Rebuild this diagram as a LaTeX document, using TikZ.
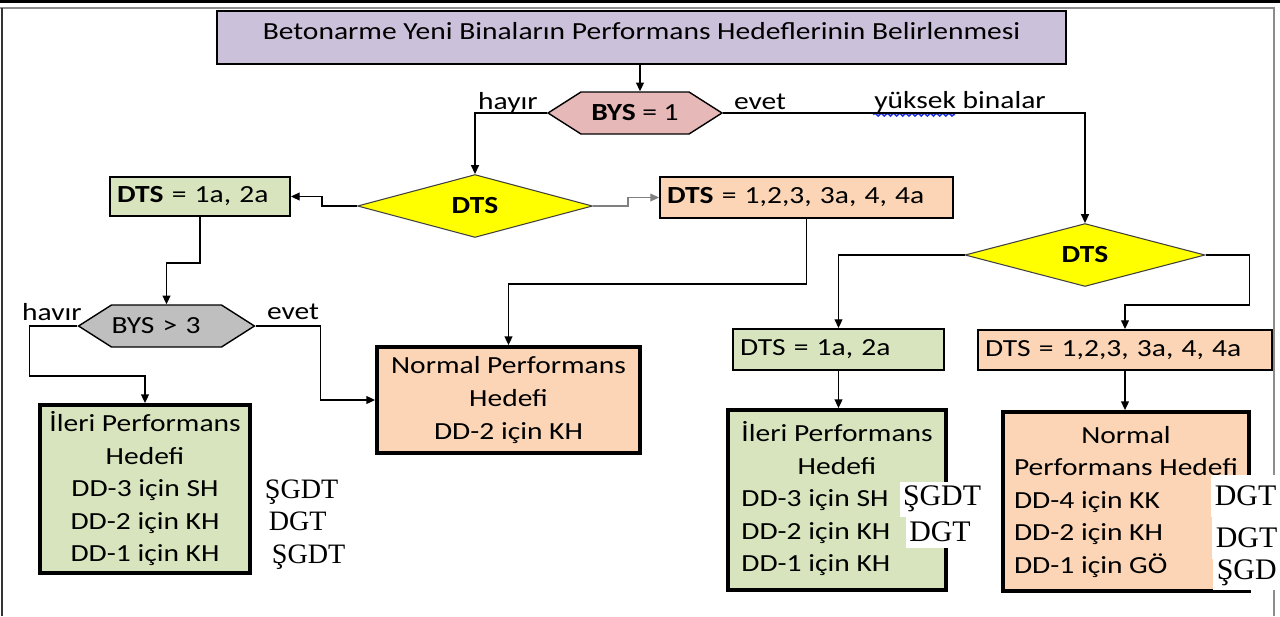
\documentclass[tikz,border=0pt]{standalone}
\usepackage{fontspec}
\setmainfont{Carlito}[FakeStretch=1.2]
\newfontfamily\timesfont{Liberation Serif}
\usetikzlibrary{arrows.meta,positioning,calc,shapes.geometric,shapes.symbols,decorations.pathmorphing}
\definecolor{clTitle}{HTML}{CCC1DA}
\definecolor{clBys}{HTML}{E6B9B8}
\definecolor{clDts}{HTML}{FFFF00}
\definecolor{clGreen}{HTML}{D7E4BD}
\definecolor{clOrange}{HTML}{FBD5B5}
\definecolor{clGray}{HTML}{BFBFBF}
\definecolor{clWave}{HTML}{2233DD}
\tikzset{
  txt/.style={font=\fontsize{14}{18.5}\selectfont},
  titlebox/.style={rectangle, draw, line width=1.2pt, fill=clTitle, inner sep=0pt,
                   minimum width=16.98cm, text height=0.56cm, text depth=0.5cm, txt},
  hexa/.style={signal, signal to=west and east, signal pointer angle=65, draw, line width=0.8pt,
               inner sep=0pt, minimum height=0.84cm, txt},
  dec/.style={diamond, draw=black!75, line width=0.6pt, fill=clDts, inner sep=0pt,
              font=\fontsize{14}{16}\selectfont\bfseries},
  optbox/.style={rectangle, draw, line width=1.1pt, inner xsep=0.14cm, inner ysep=0pt,
                 align=left, txt},
  bigbox/.style={rectangle, draw, line width=2.2pt, inner sep=0pt, txt},
  lbl/.style={inner sep=1pt, txt},
  tgdt/.style={inner sep=2pt, font=\timesfont\fontsize{16}{16}\selectfont},
  tgdtw/.style={tgdt, fill=white, font=\timesfont\fontsize{17}{17}\selectfont},
  flow/.style={-{Triangle[length=5pt,width=4.5pt]}, line width=0.8pt},
}
\begin{document}
\begin{tikzpicture}[x=0.02cm, y=-0.02cm]
  \useasboundingbox (0,0) rectangle (1280,616);
  % frame
  \draw[line width=1.2pt] (0,1.5) -- (1280,1.5);
  \draw[black!45, line width=0.6pt] (0,8) -- (1274,8) -- (1274,616);
  \draw[black!80, line width=0.8pt] (2,8) -- (2,616);

  \node[titlebox] (title) at (641.5,37.5) {Betonarme Yeni Binaların Performans Hedeflerinin Belirlenmesi};
  \node[hexa, fill=clBys, minimum width=3.48cm] (bys1) at (635,113) {\textbf{BYS} = 1};
  \node[dec, minimum width=4.7cm, minimum height=1.12cm] (dts1) at (475,206) {DTS};
  \node[dec, minimum width=4.8cm, minimum height=1.08cm] (dts2) at (1085,255) {DTS};

  \node[optbox, fill=clGreen, text width=3.32cm, minimum height=0.78cm] (greenA) at (200,196.5) {\textbf{DTS} = 1a, 2a};
  \node[optbox, fill=clOrange, text width=5.58cm, minimum height=0.82cm] (orangeA) at (806.5,197.5) {\textbf{DTS} = 1,2,3, 3a, 4, 4a};
  \node[optbox, fill=clGreen, text width=3.94cm, minimum height=0.82cm] (greenB) at (838.5,349.5) {DTS = 1a, 2a};
  \node[optbox, fill=clOrange, text width=5.6cm, minimum height=0.8cm] (orangeB) at (1125,350) {DTS = 1,2,3, 3a, 4, 4a};

  \node[hexa, fill=clGray, minimum width=3.46cm, text width=2.2cm, align=left] (bys3) at (166.5,326) {BYS > 3};

  \node[bigbox, fill=clOrange, minimum width=5.26cm, minimum height=2.12cm, align=center,
        font=\fontsize{14}{19}\selectfont] (normalA) at (508.5,400)
    {Normal Performans\\Hedefi\\DD-2 için KH};
  \node[bigbox, fill=clGreen, minimum width=4.2cm, minimum height=3.36cm, align=center] (ileriA) at (145,489)
    {İleri Performans\\Hedefi\\DD-3 için SH\\DD-2 için KH\\DD-1 için KH};
  \node[bigbox, fill=clGreen, minimum width=4.36cm, minimum height=3.6cm] (ileriB) at (837,500)
    {\begin{tabular}{@{}l@{}}\multicolumn{1}{@{}c@{}}{İleri Performans}\\ \multicolumn{1}{@{}c@{}}{Hedefi}\\
     DD-3 için SH\\ DD-2 için KH\\ DD-1 için KH\end{tabular}};
  \node[bigbox, fill=clOrange, minimum width=4.92cm, minimum height=3.58cm] (normalB) at (1126,501.5)
    {\begin{tabular}{@{}l@{}}\multicolumn{1}{@{}c@{}}{Normal}\\ \multicolumn{1}{@{}c@{}}{Performans Hedefi}\\
     DD-4 için KK\\ DD-2 için KH\\ DD-1 için GÖ\end{tabular}};

  % labels
  \node[lbl] (hayir) at (508,103) {hayır};
  \node[lbl] (evetA) at (760,102) {evet};
  \node[lbl] (yuksek) at (960,102) {yüksek binalar};
  \draw[clWave, line width=0.9pt, decorate, decoration={snake, amplitude=0.8pt, segment length=3.5pt}]
    ($(yuksek.base west)+(1,6)$) -- ++(82,0);
  \node[lbl] (havir) at (52,312) {havır};
  \node[lbl] (evetB) at (293,312) {evet};

  % connectors
  \draw[flow] (title.south -| 640,0) -- (bys1.north -| 640,0);
  \draw[flow] (bys1.west) -| (dts1.north);
  \draw[flow] (bys1.east) -| (dts2.north);
  \draw[flow] (dts1.west) -- ++(-35,0) |- (greenA.east);
  \draw[flow, draw=black!50, line width=0.6pt] (dts1.east) -- ++(35,0) |- (orangeA.west);
  \draw[flow] (greenA.south) -- ++(0,46) -| (bys3.north);
  \draw[flow] (bys3.west) -- ++(-48,0) -- ++(0,50) -| (ileriA.north);
  \draw[flow] (bys3.east) -- ++(65,0) |- (normalA.west);
  \draw[flow] (orangeA.south) -- ++(0,65) -| (normalA.north);
  \draw[flow] (dts2.west) -| (greenB.north);
  \draw[flow] (dts2.east) -- ++(44,0) -- ++(0,50) -| (orangeB.north);
  \draw[flow] (greenB.south) -- (greenB.south |- ileriB.north);
  \draw[flow] (orangeB.south) -- (orangeB.south |- normalB.north);

  % side notes
  \node[tgdt, anchor=west] (sA1) at (261,492) {ŞGDT};
  \node[tgdt, anchor=west] (sA2) at (265,521) {DGT};
  \node[tgdt, anchor=west] (sA3) at (268,557) {ŞGDT};
  \node[tgdtw, minimum height=0.7cm] (sB1) at (942,499) {ŞGDT};
  \node[tgdtw, minimum height=0.62cm] (sB2) at (940,532) {DGT};
  \node[tgdtw, anchor=west, minimum height=0.84cm] (sC1) at (1211,496) {DGT};
  \node[tgdtw, anchor=west, minimum height=0.84cm] (sC2) at (1212,538) {DGT};
  \node[tgdtw, anchor=west, minimum height=0.6cm] (sC3) at (1213,573) {ŞGD};
\end{tikzpicture}
\end{document}
